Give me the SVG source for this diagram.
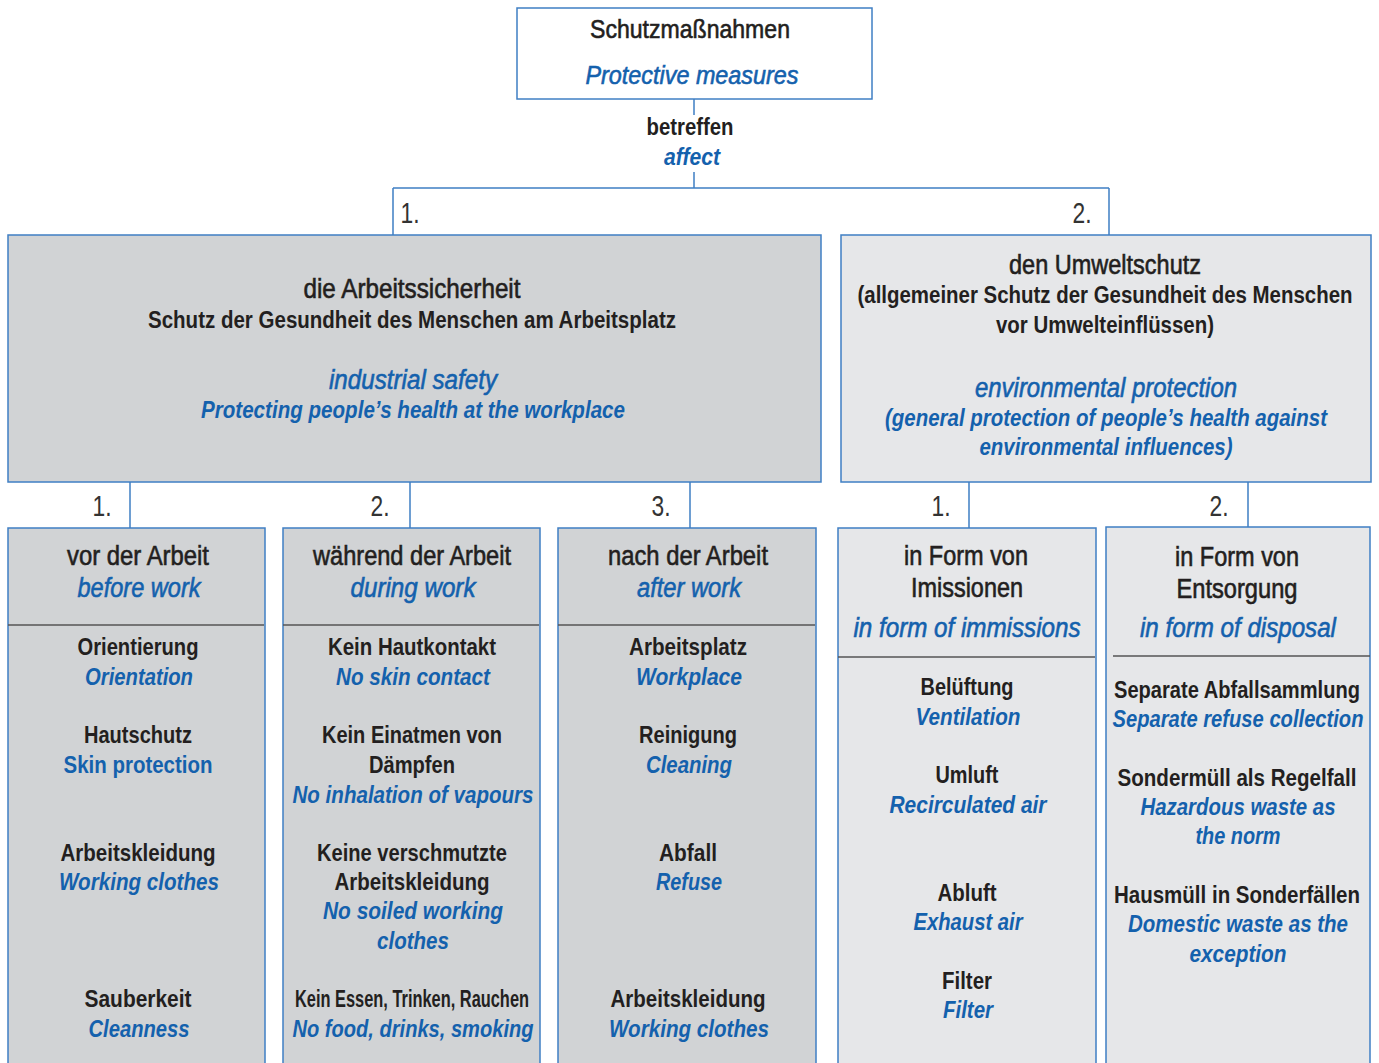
<svg xmlns="http://www.w3.org/2000/svg" width="1379" height="1063" viewBox="0 0 1379 1063">
<style>
text{font-family:"Liberation Sans",Arial,sans-serif;text-anchor:middle;fill:#231f20}
.h{font-size:27px;stroke:#231f20;stroke-width:0.6}
.hb{font-size:27px;fill:#1461ad;font-style:italic;stroke:#1461ad;stroke-width:0.6}
.b{font-size:24px;font-weight:bold}
.e{font-size:24px;font-weight:bold;font-style:italic;fill:#1461ad}
.eu{font-size:24px;font-weight:bold;fill:#1461ad}
.num{font-size:29px;fill:#333}
.box{stroke:#3f7fc4;stroke-width:1.5}
.g1{fill:#d1d3d5}
.g2{fill:#e6e7e9}
.div{stroke:#555;stroke-width:1.5}
.con{stroke:#3f7fc4;stroke-width:1.5;fill:none}
</style>
<rect width="1379" height="1063" fill="#fff"/>
<g id="connectors">
<path class="con" d="M694 99V115M694 172V188M393 188H1109M393 188V235M1109 188V235"/>
<path class="con" d="M130 482V528M410 482V528M690 482V528M969 482V528M1248 478V527"/>
<text x="690" y="135" class="b" style="font-size:23px" textLength="87" lengthAdjust="spacingAndGlyphs">betreffen</text>
<text x="692" y="165" class="e" style="font-size:23px" textLength="56" lengthAdjust="spacingAndGlyphs">affect</text>
<text x="410" y="223" class="num" textLength="19" lengthAdjust="spacingAndGlyphs">1.</text>
<text x="1082" y="223" class="num" textLength="19" lengthAdjust="spacingAndGlyphs">2.</text>
<text x="102" y="516" class="num" textLength="19" lengthAdjust="spacingAndGlyphs">1.</text>
<text x="380" y="516" class="num" textLength="19" lengthAdjust="spacingAndGlyphs">2.</text>
<text x="661" y="516" class="num" textLength="19" lengthAdjust="spacingAndGlyphs">3.</text>
<text x="941" y="516" class="num" textLength="19" lengthAdjust="spacingAndGlyphs">1.</text>
<text x="1219" y="516" class="num" textLength="19" lengthAdjust="spacingAndGlyphs">2.</text>
</g>
<g id="top">
<rect x="517" y="8" width="355" height="91" fill="#fff" class="box"/>
<text x="690" y="38" class="h" style="font-size:26px" textLength="200" lengthAdjust="spacingAndGlyphs">Schutzmaßnahmen</text>
<text x="692" y="84" class="hb" style="font-size:26px" textLength="213" lengthAdjust="spacingAndGlyphs">Protective measures</text>
</g>
<g id="arbeitssicherheit">
<rect x="8" y="235" width="813" height="247" class="box g1"/>
<text x="412" y="298" class="h" textLength="217" lengthAdjust="spacingAndGlyphs">die Arbeitssicherheit</text>
<text x="412" y="328" class="b" style="font-size:23px" textLength="528" lengthAdjust="spacingAndGlyphs">Schutz der Gesundheit des Menschen  am Arbeitsplatz</text>
<text x="413" y="389" class="hb" textLength="168" lengthAdjust="spacingAndGlyphs">industrial safety</text>
<text x="413" y="418" class="e" style="font-size:23px" textLength="424" lengthAdjust="spacingAndGlyphs">Protecting people’s health at the workplace</text>
</g>
<g id="umweltschutz">
<rect x="841" y="235" width="530" height="247" class="box g2"/>
<text x="1105" y="274" class="h" textLength="192" lengthAdjust="spacingAndGlyphs">den Umweltschutz</text>
<text x="1105" y="303" class="b" style="font-size:23px" textLength="495" lengthAdjust="spacingAndGlyphs">(allgemeiner Schutz der Gesundheit des Menschen</text>
<text x="1105" y="333" class="b" style="font-size:23px" textLength="218" lengthAdjust="spacingAndGlyphs">vor Umwelteinflüssen)</text>
<text x="1106" y="397" class="hb" textLength="262" lengthAdjust="spacingAndGlyphs">environmental protection</text>
<text x="1106" y="426" class="e" style="font-size:23px" textLength="442" lengthAdjust="spacingAndGlyphs">(general protection of people’s health against</text>
<text x="1106" y="455" class="e" style="font-size:23px" textLength="253" lengthAdjust="spacingAndGlyphs">environmental influences)</text>
</g>
<g id="vor">
<rect x="8" y="528" width="257" height="545" class="box g1"/>
<line x1="8" y1="625" x2="264" y2="625" class="div"/>
<text x="138" y="565" class="h" textLength="142" lengthAdjust="spacingAndGlyphs">vor der Arbeit</text>
<text x="139" y="597" class="hb" textLength="123" lengthAdjust="spacingAndGlyphs">before work</text>
<text x="138" y="655" class="b" textLength="121" lengthAdjust="spacingAndGlyphs">Orientierung</text>
<text x="139" y="685" class="e" textLength="108" lengthAdjust="spacingAndGlyphs">Orientation</text>
<text x="138" y="743" class="b" textLength="108" lengthAdjust="spacingAndGlyphs">Hautschutz</text>
<text x="138" y="773" class="eu" textLength="149" lengthAdjust="spacingAndGlyphs">Skin protection</text>
<text x="138" y="861" class="b" textLength="155" lengthAdjust="spacingAndGlyphs">Arbeitskleidung</text>
<text x="139" y="890" class="e" textLength="160" lengthAdjust="spacingAndGlyphs">Working clothes</text>
<text x="138" y="1007" class="b" textLength="107" lengthAdjust="spacingAndGlyphs">Sauberkeit</text>
<text x="139" y="1037" class="e" textLength="101" lengthAdjust="spacingAndGlyphs">Cleanness</text>
</g>
<g id="waehrend">
<rect x="283" y="528" width="257" height="545" class="box g1"/>
<line x1="283" y1="625" x2="539" y2="625" class="div"/>
<text x="412" y="565" class="h" textLength="198" lengthAdjust="spacingAndGlyphs">während der Arbeit</text>
<text x="413" y="597" class="hb" textLength="125" lengthAdjust="spacingAndGlyphs">during work</text>
<text x="412" y="655" class="b" textLength="168" lengthAdjust="spacingAndGlyphs">Kein Hautkontakt</text>
<text x="413" y="685" class="e" textLength="154" lengthAdjust="spacingAndGlyphs">No skin contact</text>
<text x="412" y="743" class="b" textLength="180" lengthAdjust="spacingAndGlyphs">Kein Einatmen von</text>
<text x="412" y="773" class="b" textLength="86" lengthAdjust="spacingAndGlyphs">Dämpfen</text>
<text x="413" y="803" class="e" textLength="241" lengthAdjust="spacingAndGlyphs">No inhalation of vapours</text>
<text x="412" y="861" class="b" textLength="190" lengthAdjust="spacingAndGlyphs">Keine verschmutzte</text>
<text x="412" y="890" class="b" textLength="155" lengthAdjust="spacingAndGlyphs">Arbeitskleidung</text>
<text x="413" y="919" class="e" textLength="180" lengthAdjust="spacingAndGlyphs">No soiled working</text>
<text x="413" y="949" class="e" textLength="72" lengthAdjust="spacingAndGlyphs">clothes</text>
<text x="412" y="1007" class="b" textLength="234" lengthAdjust="spacingAndGlyphs">Kein Essen, Trinken, Rauchen</text>
<text x="413" y="1037" class="e" textLength="241" lengthAdjust="spacingAndGlyphs">No food, drinks, smoking</text>
</g>
<g id="nach">
<rect x="558" y="528" width="258" height="545" class="box g1"/>
<line x1="558" y1="625" x2="815" y2="625" class="div"/>
<text x="688" y="565" class="h" textLength="160" lengthAdjust="spacingAndGlyphs">nach der Arbeit</text>
<text x="689" y="597" class="hb" textLength="104" lengthAdjust="spacingAndGlyphs">after work</text>
<text x="688" y="655" class="b" textLength="118" lengthAdjust="spacingAndGlyphs">Arbeitsplatz</text>
<text x="689" y="685" class="e" textLength="106" lengthAdjust="spacingAndGlyphs">Workplace</text>
<text x="688" y="743" class="b" textLength="98" lengthAdjust="spacingAndGlyphs">Reinigung</text>
<text x="689" y="773" class="e" textLength="86" lengthAdjust="spacingAndGlyphs">Cleaning</text>
<text x="688" y="861" class="b" textLength="58" lengthAdjust="spacingAndGlyphs">Abfall</text>
<text x="689" y="890" class="e" textLength="66" lengthAdjust="spacingAndGlyphs">Refuse</text>
<text x="688" y="1007" class="b" textLength="155" lengthAdjust="spacingAndGlyphs">Arbeitskleidung</text>
<text x="689" y="1037" class="e" textLength="160" lengthAdjust="spacingAndGlyphs">Working clothes</text>
</g>
<g id="imissionen">
<rect x="838" y="528" width="258" height="545" class="box g2"/>
<line x1="838" y1="657" x2="1095" y2="657" class="div"/>
<text x="966" y="565" class="h" textLength="124" lengthAdjust="spacingAndGlyphs">in Form von</text>
<text x="967" y="597" class="h" textLength="112" lengthAdjust="spacingAndGlyphs">Imissionen</text>
<text x="967" y="637" class="hb" textLength="227" lengthAdjust="spacingAndGlyphs">in form of immissions</text>
<text x="967" y="695" class="b" textLength="93" lengthAdjust="spacingAndGlyphs">Belüftung</text>
<text x="968" y="725" class="e" textLength="105" lengthAdjust="spacingAndGlyphs">Ventilation</text>
<text x="967" y="783" class="b" textLength="63" lengthAdjust="spacingAndGlyphs">Umluft</text>
<text x="968" y="813" class="e" textLength="157" lengthAdjust="spacingAndGlyphs">Recirculated air</text>
<text x="967" y="901" class="b" textLength="59" lengthAdjust="spacingAndGlyphs">Abluft</text>
<text x="968" y="930" class="e" textLength="109" lengthAdjust="spacingAndGlyphs">Exhaust air</text>
<text x="967" y="989" class="b" textLength="50" lengthAdjust="spacingAndGlyphs">Filter</text>
<text x="968" y="1018" class="e" textLength="50" lengthAdjust="spacingAndGlyphs">Filter</text>
</g>
<g id="entsorgung">
<rect x="1106" y="527" width="264" height="546" class="box g2"/>
<line x1="1113" y1="656" x2="1370" y2="656" class="div"/>
<text x="1237" y="566" class="h" textLength="124" lengthAdjust="spacingAndGlyphs">in Form von</text>
<text x="1237" y="598" class="h" textLength="121" lengthAdjust="spacingAndGlyphs">Entsorgung</text>
<text x="1238" y="637" class="hb" textLength="196" lengthAdjust="spacingAndGlyphs">in form of disposal</text>
<text x="1237" y="698" class="b" textLength="246" lengthAdjust="spacingAndGlyphs">Separate Abfallsammlung</text>
<text x="1238" y="727" class="e" textLength="251" lengthAdjust="spacingAndGlyphs">Separate refuse collection</text>
<text x="1237" y="786" class="b" textLength="239" lengthAdjust="spacingAndGlyphs">Sondermüll als Regelfall</text>
<text x="1238" y="815" class="e" textLength="195" lengthAdjust="spacingAndGlyphs">Hazardous waste as</text>
<text x="1238" y="844" class="e" textLength="85" lengthAdjust="spacingAndGlyphs">the norm</text>
<text x="1237" y="903" class="b" textLength="246" lengthAdjust="spacingAndGlyphs">Hausmüll in Sonderfällen</text>
<text x="1238" y="932" class="e" textLength="220" lengthAdjust="spacingAndGlyphs">Domestic waste as the</text>
<text x="1238" y="962" class="e" textLength="97" lengthAdjust="spacingAndGlyphs">exception</text>
</g>
</svg>
